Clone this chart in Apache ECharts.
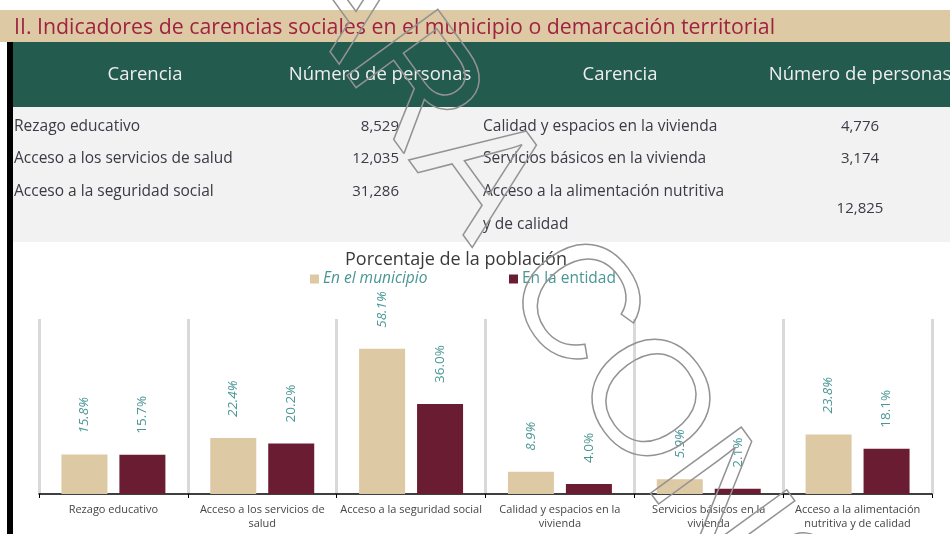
<!DOCTYPE html>
<html>
<head>
<meta charset="utf-8">
<script src="https://cdn.jsdelivr.net/npm/echarts@6/dist/echarts.min.js"></script>
<style>
  html, body { margin: 0; padding: 0; background: #ffffff; }
  #chart { width: 950px; height: 534px; }
</style>
</head>
<body>
<div id="chart"></div>
<script>
// Indicadores de carencias sociales
const sectionTitle = 'II. Indicadores de carencias sociales en el municipio o demarcación territorial';
const headers = ['Carencia', 'Número de personas'];
const carencias = [
  'Rezago educativo',
  'Acceso a los servicios de salud',
  'Acceso a la seguridad social',
  'Calidad y espacios en la vivienda',
  'Servicios básicos en la vivienda',
  'Acceso a la alimentación nutritiva\ny de calidad'
];
const personas = [8529, 12035, 31286, 4776, 3174, 12825];

// Porcentaje de la población
const chartTitle = 'Porcentaje de la población';
const seriesNames = ['En el municipio', 'En la entidad'];
const tickLabels = [
  'Rezago educativo',
  'Acceso a los servicios de\nsalud',
  'Acceso a la seguridad social',
  'Calidad y espacios en la\nvivienda',
  'Servicios básicos en la\nvivienda',
  'Acceso a la alimentación\nnutritiva y de calidad'
];
const municipio = [15.8, 22.4, 58.1, 8.9, 5.9, 23.8];
const entidad = [15.7, 20.2, 36.0, 4.0, 2.1, 18.1];

const watermark = 'PARA CONSULTA';

const FONT = '"Open Sans", "Noto Sans", sans-serif';
const BEIGE = '#DDC9A3';
const GUINDA = '#691C32';
const GREEN = '#235B4E';
const TEAL = '#4a9696';
const BODY = '#3b3a45';

function txt(text, x, y, size, color, align) {
  return {
    type: 'text',
    silent: true,
    style: {
      text: text, x: x, y: y,
      font: size + 'px ' + FONT,
      fill: color,
      align: align, textAlign: align,
      verticalAlign: 'middle', textVerticalAlign: 'middle',
      lineHeight: 33
    }
  };
}

const fmt = v => v.toLocaleString('en-US');

// table drawn with graphic elements
const graphics = [
  { type: 'rect', silent: true, shape: { x: 0, y: 10, width: 950, height: 32 }, style: { fill: BEIGE } },
  txt(sectionTitle, 14, 27.5, 21.3, '#9F2241', 'left'),
  { type: 'rect', silent: true, shape: { x: 7, y: 42, width: 6, height: 492 }, style: { fill: '#000000' } },
  { type: 'rect', silent: true, shape: { x: 13, y: 42, width: 937, height: 65 }, style: { fill: GREEN } },
  { type: 'rect', silent: true, shape: { x: 13, y: 107, width: 937, height: 135 }, style: { fill: '#F2F2F2' } },
  txt(headers[0], 145, 75, 18.5, '#eeeeee', 'center'),
  txt(headers[1], 380, 75, 18.5, '#eeeeee', 'center'),
  txt(headers[0], 620, 75, 18.5, '#eeeeee', 'center'),
  txt(headers[1], 860, 75, 18.5, '#eeeeee', 'center')
];
const rowY = [126.5, 158.5, 191.5];
for (let i = 0; i < 3; i++) {
  graphics.push(txt(carencias[i], 14, rowY[i], 15.5, BODY, 'left'));
  graphics.push(txt(fmt(personas[i]), 399, rowY[i], 15, BODY, 'right'));
}
for (let i = 0; i < 3; i++) {
  const two = carencias[i + 3].indexOf('\n') >= 0;
  const y = two ? 208.5 : rowY[i];
  graphics.push(txt(carencias[i + 3], 483, y, 15.5, BODY, 'left'));
  graphics.push(txt(fmt(personas[i + 3]), 860, y, 15, BODY, 'center'));
}
// diagonal outline stamp
graphics.push({
  type: 'text', silent: true, z: 100,
  x: 255, y: -128,
  rotation: -54 * Math.PI / 180,
  style: {
    text: watermark, x: 0, y: 0,
    font: '163px "Liberation Sans", Arial, sans-serif',
    fill: 'none', stroke: '#939393', lineWidth: 1.5,
    align: 'left', textAlign: 'left',
    verticalAlign: 'middle', textVerticalAlign: 'middle'
  }
});

const chart = echarts.init(document.getElementById('chart'), null, { renderer: 'canvas' });

const labelBase = {
  show: true,
  position: 'top',
  distance: 21,
  rotate: 90,
  align: 'left',
  verticalAlign: 'middle',
  fontFamily: FONT,
  fontSize: 13.5,
  color: TEAL,
  formatter: p => p.value.toFixed(1) + '%'
};

const legendBase = {
  top: 271,
  padding: 0,
  itemWidth: 9, itemHeight: 9, itemGap: 4,
  icon: 'rect',
  selectedMode: false
};

chart.setOption({
  animation: false,
  backgroundColor: '#ffffff',
  graphic: graphics,
  title: {
    text: chartTitle,
    left: 345,
    top: 251,
    padding: 0,
    textStyle: { fontFamily: FONT, fontSize: 18, fontWeight: 'normal', color: '#3a3a3a' }
  },
  legend: [
    Object.assign({}, legendBase, {
      data: [seriesNames[0]],
      left: 310,
      textStyle: { fontFamily: FONT, fontSize: 15.5, fontStyle: 'italic', color: TEAL, padding: [0, 0, 0, -1] }
    }),
    Object.assign({}, legendBase, {
      data: [seriesNames[1]],
      left: 509,
      textStyle: { fontFamily: FONT, fontSize: 15.5, color: TEAL, padding: [0, 0, 0, -1] }
    })
  ],
  grid: { left: 39, right: 18, top: 319, bottom: 40, containLabel: false },
  xAxis: {
    type: 'category',
    data: tickLabels,
    axisLine: { show: true, lineStyle: { color: '#000000', width: 1.5 } },
    axisTick: { show: true, length: 4, lineStyle: { color: '#000000' } },
    splitLine: { show: true, lineStyle: { color: '#d9d9d9', width: 3 } },
    axisLabel: {
      interval: 0, margin: 9,
      fontFamily: FONT, fontSize: 11, lineHeight: 14,
      color: '#454545'
    }
  },
  yAxis: {
    type: 'value', min: 0, max: 70,
    show: false,
    splitLine: { show: false }
  },
  series: [
    {
      name: seriesNames[0], type: 'bar', data: municipio,
      barWidth: 46, barGap: '26%',
      itemStyle: { color: BEIGE },
      label: Object.assign({}, labelBase, { fontStyle: 'italic' })
    },
    {
      name: seriesNames[1], type: 'bar', data: entidad,
      barWidth: 46, barGap: '26%',
      itemStyle: { color: GUINDA },
      label: Object.assign({}, labelBase)
    }
  ]
});
</script>
</body>
</html>
